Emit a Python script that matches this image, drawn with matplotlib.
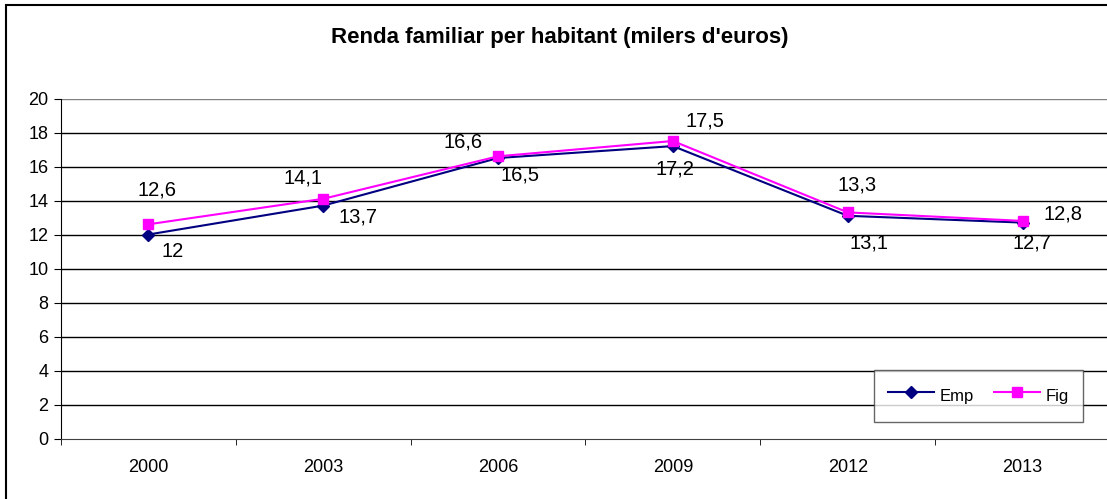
import matplotlib
matplotlib.use("Agg")
import matplotlib.pyplot as plt
from matplotlib.patches import Rectangle
import numpy as np

plt.rcParams['font.family'] = ['Liberation Sans', 'DejaVu Sans']

years = ["2000", "2003", "2006", "2009", "2012", "2013"]
emp = [12.0, 13.7, 16.5, 17.2, 13.1, 12.7]
fig_vals = [12.6, 14.1, 16.6, 17.5, 13.3, 12.8]
yticks = list(range(0, 21, 2))
title = "Renda familiar per habitant (milers d'euros)"

# label offsets in pixels (dx, dy; dy positive = down)
emp_off = [(24, 17), (35, 11), (22, 17), (2, 23), (21, 27), (9, 20)]
fig_off = [(9, -34), (-20, -21), (-35, -14), (32, -20), (9, -27), (40, -7)]

W, H = 1107, 499
fig = plt.figure(figsize=(W / 100, H / 100), dpi=100)
fig.patch.set_facecolor('white')

# outer chart border (partly cropped)
fig.add_artist(Rectangle((6 / W, -0.1), 1.2, (H - 4.5) / H + 0.1, transform=fig.transFigure,
                         fill=False, edgecolor='black', linewidth=1.5))

L, R, T, B = 61, 1110, 98.5, 438.5
ax = fig.add_axes([L / W, (H - B) / H, (R - L) / W, (B - T) / H])
x = np.arange(len(years))
ax.set_xlim(-0.5, len(years) - 0.5)
ax.set_ylim(0, 20)

for v in yticks[1:]:
    ax.axhline(v, color='#808080' if v == 20 else 'black', linewidth=1.0, zorder=1)

ax.plot(x, emp, color='#000080', marker='D', markersize=6.5, linewidth=1.5, label='Emp', zorder=3)
ax.plot(x, fig_vals, color='#FF00FF', marker='s', markersize=7, linewidth=1.5, label='Fig', zorder=3)

def lab(v):
    return ("%g" % v).replace('.', ',')

for i in range(len(years)):
    ax.annotate(lab(emp[i]), (x[i], emp[i]), xytext=(emp_off[i][0] * 0.72, -emp_off[i][1] * 0.72),
                textcoords='offset points', ha='center', va='center', fontsize=14.5, color='black')
    ax.annotate(lab(fig_vals[i]), (x[i], fig_vals[i]), xytext=(fig_off[i][0] * 0.72, -fig_off[i][1] * 0.72),
                textcoords='offset points', ha='center', va='center', fontsize=14.5, color='black')

ax.set_yticks(yticks)
ax.set_yticklabels([str(v) for v in yticks], fontsize=13)
ax.set_xticks(x)
ax.set_xticklabels(years, fontsize=13)
ax.set_xticks(np.arange(-0.5, len(years)), minor=True)
ax.tick_params(axis='x', which='major', length=0, pad=14.5)
ax.tick_params(axis='x', which='minor', length=4.5, direction='out', color='black')
ax.tick_params(axis='y', length=5, direction='out', color='black', pad=4)

for s in ['top', 'right']:
    ax.spines[s].set_visible(False)
ax.spines['left'].set_color('black')
ax.spines['bottom'].set_color('#404040')

fig.text(560 / W, 1 - 37 / H, title, ha='center', va='center', fontsize=16, fontweight='bold')

leg = ax.legend(loc='lower right', bbox_to_anchor=(1083 / W, 1 - 421.5 / H), bbox_transform=fig.transFigure,
                ncol=2, frameon=True, fancybox=False, fontsize=12, handlelength=2.75, handleheight=1.8,
                columnspacing=1.2, borderpad=0.85, handletextpad=0.36, borderaxespad=0)
leg.get_frame().set_edgecolor('#404040')
leg.get_frame().set_linewidth(1.0)

fig.savefig('out.png', dpi=100)
